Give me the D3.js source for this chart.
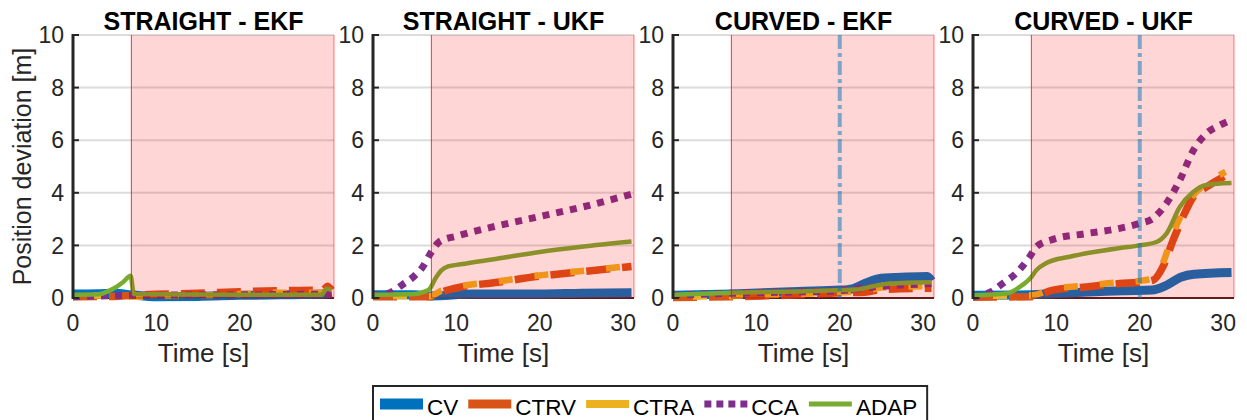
<!DOCTYPE html>
<html>
<head>
<meta charset="utf-8">
<script src="https://cdn.jsdelivr.net/npm/d3@7"></script>
<style>
body { margin: 0; background: #fff; }
svg text { font-family: "Liberation Sans", Arial, sans-serif; fill: #262626; }
</style>
</head>
<body>
<script>
// panel titles and series names
var panelTitles = ["STRAIGHT - EKF", "STRAIGHT - UKF", "CURVED - EKF", "CURVED - UKF"];
var seriesNames = ["CV", "CTRV", "CTRA", "CCA", "ADAP"];
var xTicks = [0, 10, 20, 30];
var yTicks = [0, 2, 4, 6, 8, 10];
var shadeStart = 7;        // start of shaded window [s]
var curveMarker = [null, null, 20, 20];  // dash-dot marker time per panel

// values, [time, deviation] pairs
var straightEKF = {
    CV:   [[0,0.15],[3,0.16],[5,0.18],[7,0.12],[10,0.05],[15,0.06],[20,0.1],[25,0.12],[30,0.15],[31,0.2]],
    CTRV: [[0,0.05],[5,0.06],[7,0.1],[10,0.14],[15,0.18],[20,0.24],[25,0.28],[30,0.3],[30.5,0.45],[31,0.3]],
    CTRA: [[0,0.1],[5,0.08],[7,0.05],[10,0.08],[15,0.1],[20,0.15],[25,0.2],[30,0.2],[31,0.35]],
    CCA:  [[0,0.05],[7,0.1],[20,0.12],[31,0.15]],
    ADAP: [[0,0.12],[3,0.14],[4.5,0.3],[6,0.6],[6.9,0.85],[7.3,0.15],[15,0.13],[29.8,0.12],[30.4,0.35],[31,0.3]]
};
var straightUKF = {
    CV:   [[0,0.12],[5,0.12],[7,0.08],[12,0.15],[20,0.15],[25,0.18],[31,0.2]],
    CTRV: [[0,0.05],[7,0.05],[8,0.2],[10,0.38],[15,0.6],[20,0.83],[25,1.0],[31,1.2]],
    CTRA: [[0,0.08],[7,0.08],[8,0.25],[10,0.42],[15,0.63],[20,0.86],[25,1.03],[31,1.22]],
    CCA:  [[0,0.1],[2,0.2],[3.5,0.5],[5,0.85],[6,1.2],[7,1.75],[8,2.15],[10,2.35],[15,2.75],[20,3.1],[25,3.45],[31,3.95]],
    ADAP: [[0,0.12],[5,0.15],[6,0.22],[6.8,0.35],[7.5,0.75],[8.2,1.05],[9,1.2],[10.5,1.28],[15,1.5],[20,1.75],[25,1.95],[31,2.15]]
};
var curvedEKF = {
    CV:   [[0,0.1],[7,0.15],[15,0.25],[20,0.3],[21.5,0.35],[23,0.55],[25,0.75],[28,0.8],[30.5,0.82],[31,0.65]],
    CTRV: [[0,0.02],[7,0.05],[15,0.12],[20,0.2],[23,0.22],[25,0.32],[31,0.37]],
    CTRA: [[0,0.05],[7,0.08],[15,0.15],[20,0.22],[23,0.25],[25,0.4],[31,0.45]],
    CCA:  [[0,0.1],[7,0.18],[20,0.28],[24,0.42],[31,0.55]],
    ADAP: [[0,0.12],[7,0.2],[15,0.25],[20,0.3],[22,0.32],[24,0.45],[26,0.55],[31,0.6]]
};
var curvedUKF = {
    CV:   [[0,0.1],[7,0.12],[12,0.2],[18,0.28],[21.5,0.3],[23,0.45],[25,0.8],[26.5,0.9],[31,0.97]],
    CTRV: [[0,0.03],[7,0.05],[9.6,0.3],[13.6,0.42],[17.6,0.55],[20,0.6],[21.6,0.68],[22.8,1.2],[24,2.2],[25.2,3.1],[26.4,3.84],[28,4.22],[30,4.6],[30.3,4.65]],
    CTRA: [[0,0.08],[7,0.1],[9.6,0.35],[13.6,0.47],[17.6,0.6],[20,0.65],[21.6,0.75],[22.8,1.35],[24,2.45],[25.2,3.3],[26.4,3.9],[28,4.35],[30,4.75],[30.3,4.8]],
    CCA:  [[0,0.05],[2.2,0.24],[3.6,0.56],[5.2,0.95],[6.8,1.57],[7.6,1.95],[9.6,2.23],[13.6,2.45],[17.6,2.65],[20,2.84],[21.6,3.03],[23.2,3.6],[24.8,4.48],[26.4,5.6],[28,6.26],[29.6,6.57],[31,6.77]],
    ADAP: [[0,0.1],[4,0.17],[5.6,0.42],[7,0.8],[7.6,1.06],[8.8,1.33],[11.6,1.57],[17.6,1.9],[20,2.0],[22,2.13],[23.2,2.45],[24.8,3.46],[26.4,4.03],[28,4.3],[31,4.37]]
};
var panelData = [straightEKF, straightUKF, curvedEKF, curvedUKF];

var colors = { CV: "#0072BD", CTRV: "#D95319", CTRA: "#EDB120", CCA: "#7E2F8E", ADAP: "#77AC30" };
var widths = { CV: 9, CTRV: 7.5, CTRA: 6.5, CCA: 7, ADAP: 4.5 };
var dashes = { CV: null, CTRV: "24,12", CTRA: "14,22", CCA: "7,7", ADAP: null };
var dashOff = { CV: 0, CTRV: 0, CTRA: 16, CCA: 0, ADAP: 0 };

drawChart();

function drawChart() {
    var W = 1247, H = 420;
    var mTop = 35, plotH = 263, plotW = 261, left0 = 73, step = 300;
    var xmax = 31.3;

    var svg = d3.select("body").append("svg")
        .attr("width", W)
        .attr("height", H);

    var x = d3.scaleLinear().domain([0, xmax]).range([0, plotW]);
    var y = d3.scaleLinear().domain([0, 10]).range([plotH, 0]);

    var line = d3.line()
        .x(function (d) { return x(d[0]); })
        .y(function (d) { return y(d[1]); })
        .curve(d3.curveMonotoneX);

    panelTitles.forEach(function (title, i) {
        var g = svg.append("g")
            .attr("transform", "translate(" + (left0 + step * i) + "," + mTop + ")");

        // grid
        g.selectAll("line.grid").data(yTicks.slice(1)).enter().append("line")
            .attr("class", "grid")
            .attr("x1", 0).attr("x2", plotW)
            .attr("y1", function (d) { return y(d); })
            .attr("y2", function (d) { return y(d); })
            .attr("stroke", "#dcdcdc")
            .attr("stroke-width", 2);

        // x axis line
        g.append("line")
            .attr("x1", 0).attr("x2", plotW)
            .attr("y1", y(0)).attr("y2", y(0))
            .attr("stroke", "#262626").attr("stroke-width", 2);

        // series
        var data = panelData[i];
        seriesNames.forEach(function (name) {
            g.append("path")
                .datum(data[name])
                .attr("d", line)
                .attr("fill", "none")
                .attr("stroke", colors[name])
                .attr("stroke-width", widths[name])
                .attr("stroke-dasharray", dashes[name])
                .attr("stroke-dashoffset", dashOff[name])
                .attr("stroke-linejoin", "round");
        });

        // shaded window, drawn over lines
        g.append("rect")
            .attr("x", x(shadeStart)).attr("y", 0)
            .attr("width", plotW - x(shadeStart)).attr("height", plotH)
            .attr("fill", "#ff0000").attr("fill-opacity", 0.16);
        g.append("line")
            .attr("x1", x(shadeStart)).attr("x2", x(shadeStart))
            .attr("y1", 0).attr("y2", plotH)
            .attr("stroke", "#ff0000").attr("stroke-opacity", 0.8).attr("stroke-width", 1);
        g.append("line")
            .attr("x1", plotW).attr("x2", plotW)
            .attr("y1", 0).attr("y2", plotH)
            .attr("stroke", "#ff0000").attr("stroke-opacity", 0.35).attr("stroke-width", 1.5);
        g.append("line")
            .attr("x1", x(shadeStart)).attr("x2", plotW)
            .attr("y1", y(0)).attr("y2", y(0))
            .attr("stroke", "#b01010").attr("stroke-opacity", 0.5).attr("stroke-width", 1.5);

        // marker line in curved scenarios
        if (curveMarker[i] != null) {
            g.append("line")
                .attr("x1", x(curveMarker[i])).attr("x2", x(curveMarker[i]))
                .attr("y1", y(10)).attr("y2", y(0))
                .attr("stroke", "#0072BD").attr("stroke-opacity", 0.5)
                .attr("stroke-width", 4)
                .attr("stroke-dasharray", "14,4,4,4");
        }

        // y axis
        g.append("line")
            .attr("x1", 0).attr("x2", 0)
            .attr("y1", y(10) - 1).attr("y2", y(0) + 1)
            .attr("stroke", "#262626").attr("stroke-width", 3);
        g.selectAll("line.ytick").data(yTicks).enter().append("line")
            .attr("class", "ytick")
            .attr("x1", 0).attr("x2", 6)
            .attr("y1", function (d) { return y(d); })
            .attr("y2", function (d) { return y(d); })
            .attr("stroke", "#262626").attr("stroke-width", 2);
        g.selectAll("text.ylab").data(yTicks).enter().append("text")
            .attr("class", "ylab")
            .attr("x", -9)
            .attr("y", function (d) { return y(d); })
            .attr("dy", "0.36em")
            .attr("text-anchor", "end")
            .style("font-size", "23px")
            .text(function (d) { return d; });

        // x tick labels
        g.selectAll("text.xlab").data(xTicks).enter().append("text")
            .attr("class", "xlab")
            .attr("x", function (d) { return x(d); })
            .attr("y", 331 - mTop)
            .attr("text-anchor", "middle")
            .style("font-size", "23px")
            .text(function (d) { return d; });

        g.append("text")
            .attr("x", plotW / 2).attr("y", 362 - mTop)
            .attr("text-anchor", "middle")
            .style("font-size", "26px")
            .text("Time [s]");

        g.append("text")
            .attr("x", plotW / 2).attr("y", 30 - mTop)
            .attr("text-anchor", "middle")
            .style("font-size", "25px")
            .style("font-weight", "bold")
            .style("fill", "#000")
            .text(title);
    });

    svg.append("text")
        .attr("transform", "translate(31," + (mTop + plotH / 2) + ") rotate(-90)")
        .attr("text-anchor", "middle")
        .style("font-size", "25px")
        .text("Position deviation [m]");

    // legend
    var lg = svg.append("g");
    var lgBox = lg.append("rect")
        .attr("x", 373).attr("y", 386).attr("height", 40)
        .attr("fill", "#fff").attr("stroke", "#262626").attr("stroke-width", 2);
    var lx = 380, ly = 404;
    var swatchH = { CV: 11, CTRV: 9, CTRA: 8, CCA: 7, ADAP: 5 };
    seriesNames.forEach(function (name) {
        lg.append("line")
            .attr("x1", lx).attr("x2", lx + 43)
            .attr("y1", ly).attr("y2", ly)
            .attr("stroke", colors[name])
            .attr("stroke-width", swatchH[name])
            .attr("stroke-dasharray", name == "CCA" ? "7,5" : null);
        var t = lg.append("text")
            .attr("x", lx + 47).attr("y", 415)
            .style("font-size", "22.5px")
            .style("fill", "#000")
            .text(name);
        lx = lx + 47 + t.node().getComputedTextLength() + 10;
    });
    lgBox.attr("width", lx - 373);
}
</script>
</body>
</html>
